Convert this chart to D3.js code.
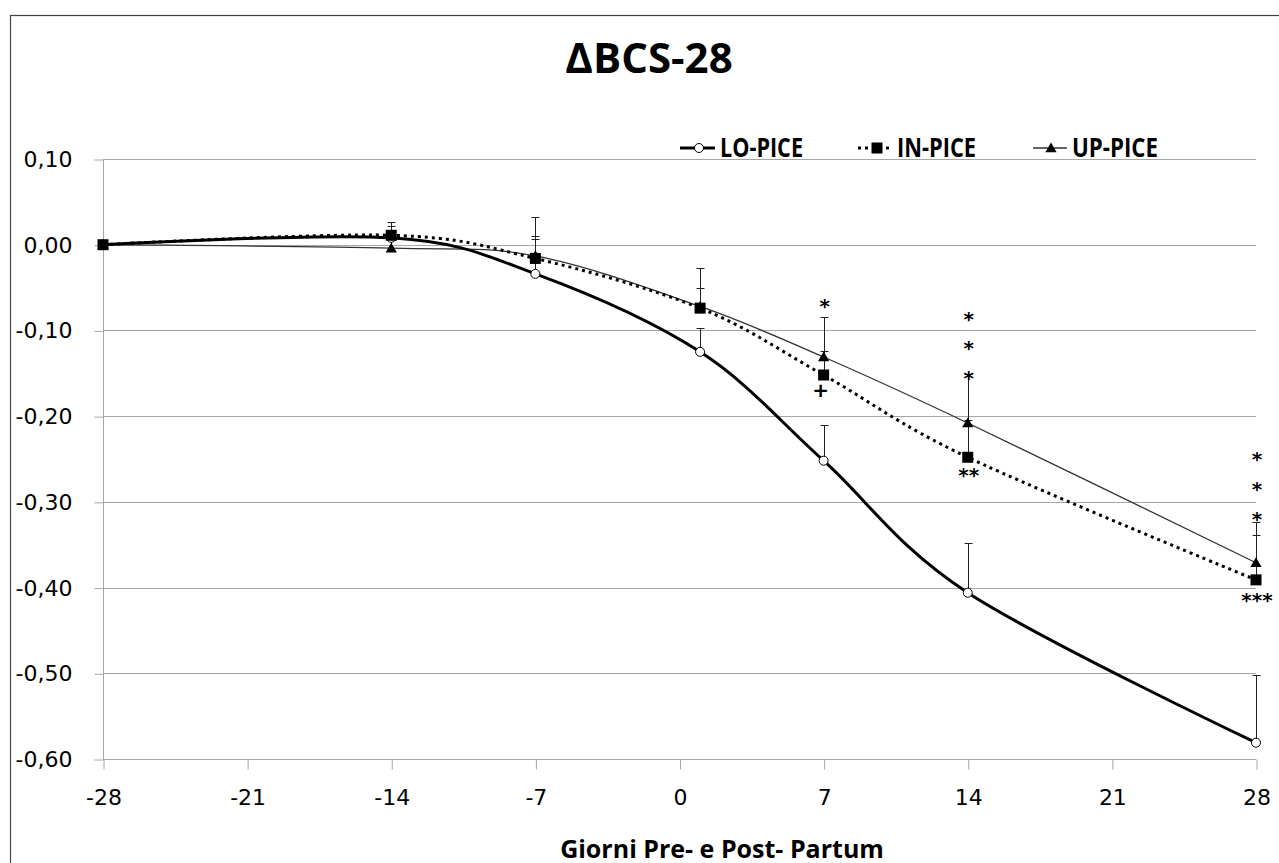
<!DOCTYPE html>
<html>
<head>
<meta charset="utf-8">
<script src="https://cdn.jsdelivr.net/npm/d3@7"></script>
<style>
  body { margin: 0; background: #fff; }
  svg { display: block; }
</style>
</head>
<body>
<svg id="chart" width="1279" height="863"></svg>
<script>
// giorni dei rilievi
var days = [-28, -14, -7, 1, 7, 14, 28];

// delta BCS medio per gruppo
var loPice = [0, 0.008, -0.034, -0.125, -0.252, -0.406, -0.581];
var inPice = [0, 0.011, -0.016, -0.074, -0.152, -0.248, -0.391];
var upPice = [0, -0.004, -0.013, -0.072, -0.131, -0.208, -0.371];

// errori standard (solo barra superiore)
var loSE = [0, 0.014, 0.044, 0.028, 0.042, 0.058, 0.079];
var inSE = [0, 0.015, 0.048, 0.047, 0.028, 0.043, 0.052];
var upSE = [0, 0.010, 0.020, 0.021, 0.047, 0.057, 0.048];

var seriesNames = ["LO-PICE", "IN-PICE", "UP-PICE"];

// assi
var xTicks = [-28, -21, -14, -7, 0, 7, 14, 21, 28];
var yTicks = [0.10, 0.00, -0.10, -0.20, -0.30, -0.40, -0.50, -0.60];

// significativita
var annDays = [7, 7, 14, 14, 14, 14, 28, 28, 28, 28];
var annValues = [-0.067, -0.170, -0.082, -0.116, -0.151, -0.264, -0.245, -0.280, -0.315, -0.410];
var annText = ["*", "+", "*", "*", "*", "**", "*", "*", "*", "***"];

var svg = d3.select("#chart");

var x = d3.scaleLinear().domain([-28, 28]).range([103, 1256]);
var y = d3.scaleLinear().domain([0.10, -0.60]).range([159, 759]);

var it = d3.formatLocale({decimal: ",", thousands: ".", grouping: [3], currency: ["", ""], minus: "-"});
var fmt = it.format(".2f");

// cornice
svg.append("rect")
	.attr("x", 10.5).attr("y", 15.5)
	.attr("width", 1300).attr("height", 900)
	.attr("fill", "none")
	.attr("stroke", "#444")
	.attr("stroke-width", 1.2);

// titolo
svg.append("text")
	.attr("x", 649).attr("y", 73)
	.attr("text-anchor", "middle")
	.attr("font-family", "Open Sans, sans-serif")
	.attr("font-weight", "bold")
	.attr("font-size", 42)
	.text("\u0394BCS-28");

// griglia
svg.append("g").selectAll("line")
	.data(yTicks)
	.join("line")
	.attr("x1", x(-28)).attr("x2", x(28))
	.attr("y1", function (d) { return Math.round(y(d)) + 0.5; })
	.attr("y2", function (d) { return Math.round(y(d)) + 0.5; })
	.attr("stroke", "#a6a6a6")
	.attr("stroke-width", 1);

svg.append("line")
	.attr("x1", x(-28) + 0.5).attr("x2", x(-28) + 0.5)
	.attr("y1", y(0.10)).attr("y2", y(-0.60))
	.attr("stroke", "#a6a6a6");

var yAxis = svg.append("g")
	.attr("transform", "translate(" + (x(-28) + 0.5) + ",0.5)")
	.call(d3.axisLeft(y).tickValues(yTicks).tickFormat(fmt).tickSize(9).tickPadding(22));

var xAxis = svg.append("g")
	.attr("transform", "translate(0.5," + (Math.round(y(-0.60)) + 0.5) + ")")
	.call(d3.axisBottom(x).tickValues(xTicks).tickFormat(d3.format("d")).tickSize(10).tickPadding(20));

[yAxis, xAxis].forEach(function (g) {
	g.select(".domain").remove();
	g.selectAll(".tick line").attr("stroke", "#a6a6a6");
	g.selectAll(".tick text")
		.attr("fill", "#000")
		.attr("font-family", "DejaVu Sans, sans-serif")
		.attr("font-size", 22);
});
xAxis.selectAll(".tick text").text(function (d) { return d3.format("d")(d).replace("\u2212", "-"); });

// titolo asse x
svg.append("text")
	.attr("x", 722).attr("y", 858)
	.attr("text-anchor", "middle")
	.attr("font-family", "Open Sans, sans-serif")
	.attr("font-weight", "bold")
	.attr("font-size", 25)
	.text("Giorni Pre- e Post- Partum");

var curve = d3.curveCardinal.tension(0);

function pts(vals) {
	return days.map(function (d, i) { return [d, vals[i]]; });
}

var line = d3.line()
	.x(function (d) { return x(d[0]); })
	.y(function (d) { return y(d[1]); })
	.curve(curve);

// barre d'errore
function errorBars(vals, se) {
	var g = svg.append("g").attr("stroke", "#222").attr("stroke-width", 1);
	days.forEach(function (d, i) {
		if (!se[i]) return;
		var cx = Math.round(x(d)) + 0.5;
		var top = Math.round(y(vals[i] + se[i])) + 0.5;
		g.append("line").attr("x1", cx).attr("x2", cx).attr("y1", y(vals[i])).attr("y2", top);
		g.append("line").attr("x1", cx - 4).attr("x2", cx + 4).attr("y1", top).attr("y2", top);
	});
}

errorBars(loPice, loSE);
errorBars(inPice, inSE);
errorBars(upPice, upSE);

// linee
svg.append("path")
	.datum(pts(upPice))
	.attr("d", line)
	.attr("fill", "none")
	.attr("stroke", "#333")
	.attr("stroke-width", 1.3);

svg.append("path")
	.datum(pts(inPice))
	.attr("d", line)
	.attr("fill", "none")
	.attr("stroke", "#000")
	.attr("stroke-width", 3)
	.attr("stroke-dasharray", "3,4");

svg.append("path")
	.datum(pts(loPice))
	.attr("d", line)
	.attr("fill", "none")
	.attr("stroke", "#000")
	.attr("stroke-width", 3);

// marcatori
var tri = d3.symbol().type(d3.symbolTriangle).size(55);

function circles(g, data) {
	g.selectAll("circle").data(data).join("circle")
		.attr("cx", function (d) { return x(d[0]); })
		.attr("cy", function (d) { return y(d[1]); })
		.attr("r", 4.5)
		.attr("fill", "#fff")
		.attr("stroke", "#000")
		.attr("stroke-width", 1);
}
function squares(g, data) {
	g.selectAll("rect").data(data).join("rect")
		.attr("x", function (d) { return x(d[0]) - 5.5; })
		.attr("y", function (d) { return y(d[1]) - 5.5; })
		.attr("width", 11).attr("height", 11)
		.attr("fill", "#000");
}
function triangles(g, data) {
	g.selectAll("path").data(data).join("path")
		.attr("transform", function (d) { return "translate(" + x(d[0]) + "," + (y(d[1]) + 1) + ")"; })
		.attr("d", tri)
		.attr("fill", "#000");
}

circles(svg.append("g"), pts(loPice));
triangles(svg.append("g"), pts(upPice));
squares(svg.append("g"), pts(inPice));

// annotazioni
svg.append("g").selectAll("text")
	.data(annText)
	.join("text")
	.attr("x", function (d, i) { return x(annDays[i]) + (d === "+" ? -3 : 1); })
	.attr("y", function (d, i) { return y(annValues[i]) + (d === "+" ? 7 : 11); })
	.attr("text-anchor", "middle")
	.attr("font-family", "DejaVu Sans, sans-serif")
	.attr("font-weight", "bold")
	.attr("font-size", 20)
	.text(function (d) { return d; });

// legenda
var legY = 148;
var leg = svg.append("g");

leg.append("line").attr("x1", 680).attr("x2", 715).attr("y1", legY).attr("y2", legY)
	.attr("stroke", "#000").attr("stroke-width", 3);
circles(leg.append("g"), [[x.invert(699), y.invert(legY)]]);

leg.append("line").attr("x1", 858).attr("x2", 891).attr("y1", legY).attr("y2", legY)
	.attr("stroke", "#000").attr("stroke-width", 3).attr("stroke-dasharray", "3,4");
squares(leg.append("g"), [[x.invert(877), y.invert(legY)]]);

leg.append("line").attr("x1", 1033).attr("x2", 1067).attr("y1", legY).attr("y2", legY)
	.attr("stroke", "#333").attr("stroke-width", 1.3);
triangles(leg.append("g"), [[x.invert(1051), y.invert(legY)]]);

var legX = [720, 897, 1072];
var legW = [83, 79, 86];
leg.selectAll("text.lbl").data(seriesNames).join("text")
	.attr("class", "lbl")
	.attr("x", function (d, i) { return legX[i]; })
	.attr("y", 157)
	.attr("font-family", "Open Sans, sans-serif")
	.attr("font-weight", "bold")
	.attr("font-size", 26)
	.attr("textLength", function (d, i) { return legW[i]; })
	.attr("lengthAdjust", "spacingAndGlyphs")
	.text(function (d) { return d; });
</script>
</body>
</html>
